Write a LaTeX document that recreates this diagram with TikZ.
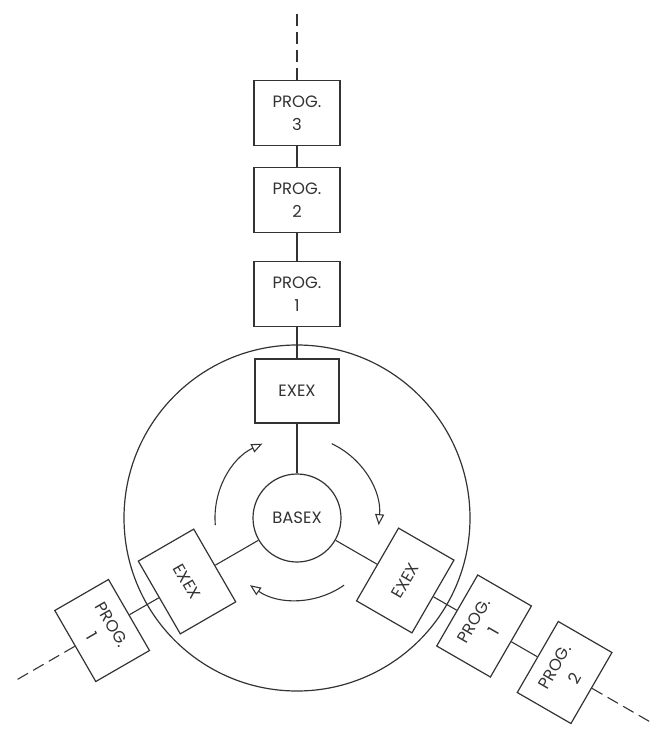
\documentclass[tikz,border=0pt]{standalone}
\usepackage{fontspec}
\setmainfont{Poppins}
\usetikzlibrary{arrows.meta,calc}
\definecolor{ink}{gray}{0.2}
\begin{document}
\begin{tikzpicture}[x=1bp,y=1bp,
  box/.style={draw=ink, line width=1.2bp, minimum width=84bp, minimum height=64bp,
    inner sep=0pt, align=center, font=\fontsize{16.5}{23}\selectfont, text=ink},
  hub/.style={draw=ink, circle, line width=1.2bp, minimum size=88bp, inner sep=0pt,
    font=\fontsize{16.5}{23}\selectfont, text=ink},
  link/.style={draw=ink, line width=1.1bp},
  dashlink/.style={link, dash pattern=on 12bp off 6bp},
  cyc/.style={draw=ink, line width=1.1bp, -{Triangle[open, length=11bp, width=9bp]}}
]
\useasboundingbox (0,0) rectangle (661,-732);
\coordinate (C) at (297,-518);
\draw[ink, line width=1.2bp] (C) circle[radius=173];
\node[hub] (basex) at (C) {BASEX};
% executives
\node[box] (ext) at ($(C)+(90:127)$) {EXEX};
\node[box, rotate=60] (exr) at ($(C)+(-30:125)$) {EXEX};
\node[box, rotate=-60] (exl) at ($(C)+(210:127)$) {EXEX};
% top stack
\node[box, minimum width=86bp, minimum height=65bp] (pt1) at ($(C)+(90:224)$) {PROG.\\1};
\node[box, minimum width=86bp, minimum height=65bp] (pt2) at ($(C)+(90:318)$) {PROG.\\2};
\node[box, minimum width=86bp, minimum height=65bp] (pt3) at ($(C)+(90:405)$) {PROG.\\3};
\coordinate (endt) at ($(C)+(90:510)$);
% right stack
\node[box, rotate=60, minimum width=82bp, minimum height=62bp] (pr1) at ($(C)+(-30:216)$) {PROG.\\1};
\node[box, rotate=60, minimum width=82bp, minimum height=62bp] (pr2) at ($(C)+(-30:309)$) {PROG.\\2};
\coordinate (endr) at ($(C)+(-30:412)$);
% left stack
\node[box, rotate=-60, minimum width=82bp, minimum height=62bp] (pl1) at ($(C)+(210:225)$) {PROG.\\1};
\coordinate (endl) at ($(C)+(210:324)$);
% connectors
\draw[link] (basex) -- (ext);
\draw[link] (basex) -- (exr);
\draw[link] (basex) -- (exl);
\draw[link] (ext) -- (pt1);
\draw[link] (pt1) -- (pt2);
\draw[link] (pt2) -- (pt3);
\draw[dashlink] (pt3) -- (endt);
\draw[link] (exr) -- (pr1);
\draw[link] (pr1) -- (pr2);
\draw[dashlink] (pr2) -- (endr);
\draw[link] (exl) -- (pl1);
\draw[dashlink] (pl1) -- (endl);
% rotation arrows
\draw[cyc] ($(C)+(185:82)$) arc[start angle=185, end angle=115, radius=82];
\draw[cyc] ($(C)+(65:82)$) arc[start angle=65, end angle=-5, radius=82];
\draw[cyc] ($(C)+(-55:82)$) arc[start angle=-55, end angle=-125, radius=82];
\end{tikzpicture}
\end{document}
